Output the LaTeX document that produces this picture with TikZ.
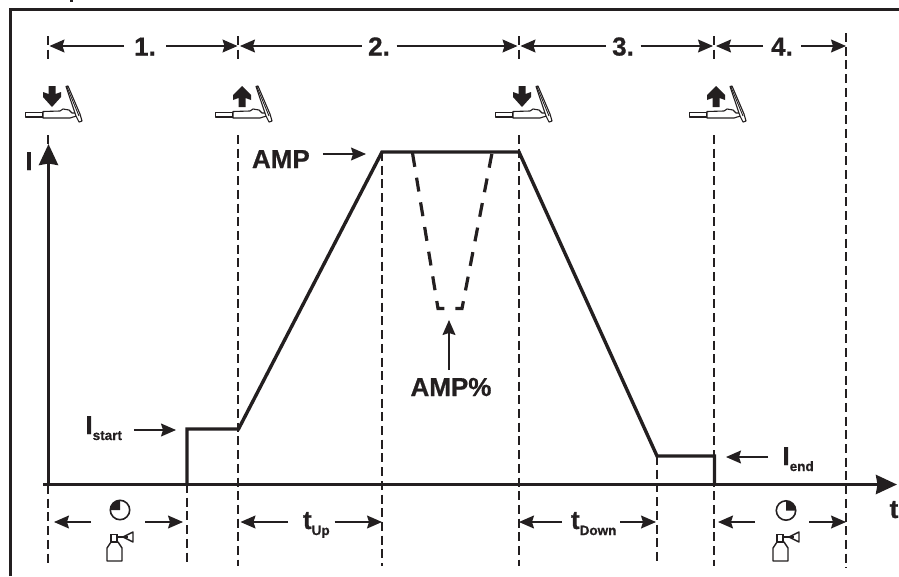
\documentclass[tikz,border=0pt]{standalone}
\usepackage{fontspec}
\setmainfont{Liberation Sans}[BoldFeatures={FakeBold=0.7}]
\usetikzlibrary{arrows.meta}
\definecolor{ink}{HTML}{231F20}
\newcommand{\bigf}{\fontsize{26}{26}\selectfont\bfseries}
\newcommand{\subf}{\fontsize{13.5}{14}\selectfont\bfseries}
\newcommand{\lowsub}[1]{\raisebox{-6pt}{\subf #1}}
\tikzset{
  every node/.style={inner sep=0pt,outer sep=0pt,text=ink},
  framepath/.style={draw=ink,line width=2.6pt},
  tick/.style={draw=ink,line width=1.8pt,dash pattern=on 9pt off 4.7pt},
  curve/.style={draw=ink,line width=3.4pt,line join=miter},
  dipped/.style={draw=ink,line width=3.2pt,dash pattern=on 14pt off 11pt},
  axisline/.style={draw=ink,line width=3.4pt,-{Stealth[length=21pt,width=19pt,inset=1.5pt]}},
  dim/.style={draw=ink,line width=1.2pt,-{Stealth[length=15pt,width=13pt,inset=2pt]}},
  biglabel/.style={font=\bigf},
  pics/torch/.style={code={
    \draw[ink,line width=1.1pt,line join=round,fill=white]
      (-26.5,12.2) rectangle (-9,17);
    \draw[ink,line width=1.1pt,line join=round,fill=white]
      (-9,11.5) -- (8,11) -- (11,9) -- (17,10) -- (20,13) -- (24,13) -- (26,15.5)
      -- (18,18) -- (-9,18) -- cycle;
    \draw[ink,line width=1.1pt,line join=round,fill=white]
      (14,-13.5) -- (16,-14) -- (28,14) -- (30,21) -- (27,22) -- (24,16) -- cycle;
    \draw[ink,line width=.9pt] (15,-13) -- (27,16);
  }},
  pics/downmark/.style={code={
    \fill[ink] (-3.5,-14) -- (3.5,-14) -- (3.5,-6) -- (9,-8) -- (9,-3) -- (0,7)
      -- (-9,-3) -- (-9,-8) -- (-3.5,-6) -- cycle;
  }},
  pics/upmark/.style={code={
    \fill[ink] (0,-14) -- (9,-5) -- (9,0) -- (3.5,-2) -- (3.5,7) -- (-3.5,7)
      -- (-3.5,-2) -- (-9,0) -- (-9,-5) -- cycle;
  }},
  pics/gas/.style={code={
    \draw[ink,line width=1.4pt,line join=round,fill=white]
      (0,0) -- (0,-13) -- (4,-19) -- (11,-19) -- (15,-13) -- (15,0) -- cycle;
    \draw[ink,line width=1.4pt,fill=white] (4,-19) rectangle (10,-26.5);
    \draw[ink,line width=1.4pt,line join=round,fill=white]
      (26,-29) -- (26,-19) -- (16,-24) -- cycle;
    \draw[ink,line width=2.6pt] (10,-24) -- (21,-24);
  }}
}
\begin{document}
\begin{tikzpicture}[x=1pt,y=-1pt]
\useasboundingbox (0,0) rectangle (899,576);

% frame
\draw[framepath] (10.5,576) -- (10.5,9.5) -- (899,9.5);
\fill[ink] (70,0) rectangle (72.5,2);

% named positions on the phase row
\coordinate (atop) at (49.5,46);
\coordinate (ctop) at (237.5,46);
\coordinate (cbtop) at (240,46);
\coordinate (etop) at (517.5,46);
\coordinate (ebtop) at (520.5,46);
\coordinate (gtop) at (713,46);
\coordinate (gbtop) at (716,46);
\coordinate (htop) at (846,46);
% named positions on the time row
\coordinate (clow) at (240.5,522);
\coordinate (dlow) at (382,522);
\coordinate (elow) at (519,522);
\coordinate (flow) at (656,522);
\coordinate (alow) at (54,522);
\coordinate (blow) at (183,522);
\coordinate (glow) at (718,522);
\coordinate (hlow) at (846,522);

% time ticks
\draw[tick] (48,36) -- (48,60);
\draw[tick] (238,36) -- (238,60);
\draw[tick] (519,36) -- (519,60);
\draw[tick] (714,36) -- (714,60);
\draw[tick] (48,135) -- (48,144);
\draw[tick] (48,485) -- (48,566);
\draw[tick] (187,484) -- (187,566);
\draw[tick] (238,135) -- (238,566);
\draw[tick] (382,152) -- (382,566);
\draw[tick] (519,135) -- (519,566);
\draw[tick] (657,456) -- (657,563);
\draw[tick] (714,135) -- (714,566);
\draw[tick] (846,33) -- (846,568);

% axes
\coordinate (origin) at (48.5,484.5);
\coordinate (ytip) at (48.5,144);
\coordinate (xstart) at (43,484.5);
\coordinate (xtip) at (897,484.5);
\draw[axisline] (origin) -- (ytip);
\draw[axisline] (xstart) -- (xtip);
\node[biglabel,anchor=base] (Ilabel) at (29,170) {I};
\node[biglabel,anchor=base] (tlabel) at (894,518) {t};

% current curve
\coordinate (p0) at (187,484);
\coordinate (p1) at (187,429);
\coordinate (p2) at (238.5,429);
\coordinate (p3) at (382,152);
\coordinate (p4) at (519,152);
\coordinate (p5) at (657,456);
\coordinate (p6) at (714.5,456);
\coordinate (p7) at (714.5,484);
\draw[curve] (p0) -- (p1) -- (p2) -- (p3) -- (p4) -- (p5) -- (p6) -- (p7);

% pulsed current drop
\coordinate (q0) at (412.5,153);
\coordinate (q1) at (438,308.5);
\coordinate (q2) at (462,308.5);
\coordinate (q3) at (492,153);
\draw[dipped] (q0) -- (q1) -- (q2) -- (q3);

% phase labels
\node[biglabel,minimum width=42pt,text height=19pt,text depth=0pt] (one) at (145,46) {1.};
\draw[dim] (one) -- (atop);
\draw[dim] (one) -- (ctop);
\node[biglabel,minimum width=35pt,text height=19pt,text depth=0pt] (two) at (379,46) {2.};
\draw[dim] (two) -- (cbtop);
\draw[dim] (two) -- (etop);
\node[biglabel,minimum width=35pt,text height=19pt,text depth=0pt] (three) at (623,46) {3.};
\draw[dim] (three) -- (ebtop);
\draw[dim] (three) -- (gtop);
\node[biglabel,minimum width=38pt,text height=19pt,text depth=0pt] (four) at (782,46) {4.};
\draw[dim] (four) -- (gbtop);
\draw[dim] (four) -- (htop);

% torches
\pic at (52,100) {torch};
\pic at (52,100) {downmark};
\pic at (242,100) {torch};
\pic at (242,100) {upmark};
\pic at (522,100) {torch};
\pic at (522,100) {downmark};
\pic at (716,100) {torch};
\pic at (716,100) {upmark};

% current labels
\coordinate (istarttip) at (176,430);
\node[anchor=west,text height=8pt,text depth=0pt] (istart) at (85.5,430)
  {{\bigf I}\lowsub{start}\kern12pt\relax};
\draw[dim] (istart.east) -- (istarttip);

\coordinate (amptip) at (366,154);
\node[anchor=west,biglabel,text height=28pt,text depth=0pt] (amp) at (252,154)
  {AMP\kern13pt\relax};
\draw[dim] (amp.east) -- (amptip);

\coordinate (iendtip) at (726,457);
\node[anchor=west,text height=16pt,text depth=0pt] (iend) at (768,457)
  {\kern14.5pt{\bigf I}\lowsub{end}};
\draw[dim] (iend.west) -- (iendtip);

\coordinate (amppcttip) at (449,320);
\node[anchor=north,biglabel,text height=26pt,text depth=0pt] (amppct) at (451,370) {AMP\%};
\draw[dim] (amppct.north -| amppcttip) -- (amppcttip);

% time labels
\node[anchor=west,text height=14pt,text depth=0pt] (tup) at (288,522)
  {\kern15pt{\bigf t}\lowsub{Up}\kern5pt\relax};
\draw[dim] (tup.west) -- (clow);
\draw[dim] (tup.east) -- (dlow);

\node[anchor=west,text height=14pt,text depth=0pt] (tdown) at (562,522)
  {\kern9pt{\bigf t}\lowsub{Down}\kern4pt\relax};
\draw[dim] (tdown.west) -- (elow);
\draw[dim] (tdown.east) -- (flow);

% gas pre-flow
\coordinate (pre1) at (91,522);
\coordinate (pre2) at (145,522);
\draw[dim] (pre1) -- (alow);
\draw[dim] (pre2) -- (blow);
\draw[ink,line width=1.6pt] (120,510) circle (9.7pt);
\fill[ink] (120,510) -- (110.3,510) arc[start angle=180,end angle=90,radius=9.7pt] -- cycle;
\pic at (107,561) {gas};

% gas post-flow
\coordinate (post1) at (755,522);
\coordinate (post2) at (809,522);
\draw[dim] (post1) -- (glow);
\draw[dim] (post2) -- (hlow);
\draw[ink,line width=1.6pt] (786,510.5) circle (9.7pt);
\fill[ink] (786,510.5) -- (795.7,510.5) arc[start angle=0,end angle=90,radius=9.7pt] -- cycle;
\pic at (773,561) {gas};
\end{tikzpicture}
\end{document}
